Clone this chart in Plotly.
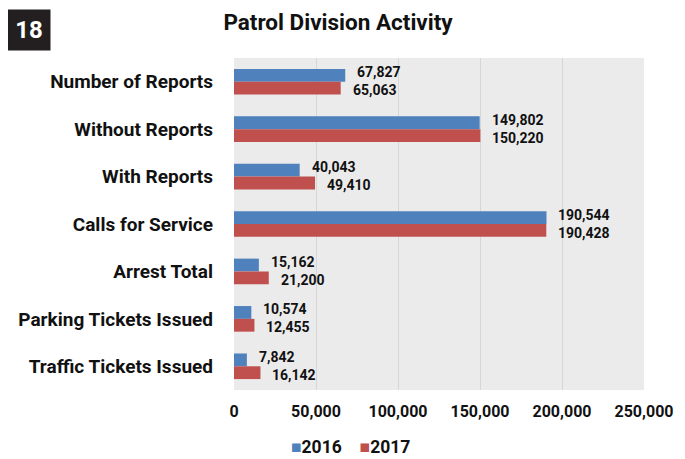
import plotly.graph_objects as go

categories = ["Number of Reports", "Without Reports", "With Reports", "Calls for Service",
              "Arrest Total", "Parking Tickets Issued", "Traffic Tickets Issued"]
values_2016 = [67827, 149802, 40043, 190544, 15162, 10574, 7842]
values_2017 = [65063, 150220, 49410, 190428, 21200, 12455, 16142]
series_names = ["2016", "2017"]
series_colors = ["#4F81BD", "#C0504D"]
x_ticks = [0, 50000, 100000, 150000, 200000, 250000]
x_tick_labels = ["0", "50,000", "100,000", "150,000", "200,000", "250,000"]

FONT = "Roboto, Arial, sans-serif"
INK = "#111111"

fig = go.Figure()
for name, vals, col in zip(series_names, [values_2016, values_2017], series_colors):
    fig.add_trace(go.Bar(
        y=categories, x=vals, orientation="h", name=name,
        marker=dict(color=col, line=dict(width=0)), showlegend=False,
    ))

# data labels, placed at the bar ends through the axes' scales
for vals, yshift in [(values_2016, 9.5), (values_2017, -8.5)]:
    for cat, v in zip(categories, vals):
        fig.add_annotation(
            x=v, y=cat, xref="x", yref="y", text=f"{v:,}", showarrow=False,
            xanchor="left", yanchor="middle", xshift=10, yshift=yshift,
            font=dict(family=FONT, size=14, color=INK, weight="bold"),
        )

fig.update_layout(
    width=677, height=451,
    margin=dict(l=226, r=41, t=50, b=69, autoexpand=False),
    paper_bgcolor="white", plot_bgcolor="#EBEBEB",
    barmode="group", bargap=0.46, bargroupgap=0,
    font=dict(family=FONT, color=INK),
    title=dict(text="Patrol Division Activity", x=0.4875, xanchor="center",
               y=0.969, yanchor="middle",
               font=dict(family=FONT, size=22.5, color=INK, weight="bold")),
    xaxis=dict(range=[0, 250000], tickvals=x_ticks, ticktext=x_tick_labels,
               showgrid=True, gridcolor="#D6D6D6", gridwidth=1, zeroline=False,
               showline=False, automargin=False,
               tickfont=dict(family=FONT, size=16, color=INK, weight="bold"),
               ticks="", ticklabelstandoff=10),
    yaxis=dict(autorange="reversed", showgrid=False, showline=False, ticks="",
               automargin=False,
               tickfont=dict(family=FONT, size=19, color=INK, weight="bold"),
               ticklabelstandoff=20),
)

# legend row (small square swatches directly before each label)
legend_text = "\u2003".join(
    f'<span style="color:{c}">\u25A0</span>{n}' for n, c in zip(series_names, series_colors)
)
fig.add_annotation(
    text=legend_text, xref="paper", yref="paper", x=0.283, y=-0.172,
    xanchor="center", yanchor="middle", showarrow=False,
    font=dict(family=FONT, size=17.5, color=INK, weight="bold"),
)

fig.add_annotation(
    text="18", xref="paper", yref="paper", x=-0.5, y=1.084,
    xanchor="center", yanchor="middle", showarrow=False,
    font=dict(family=FONT, size=24, color="white", weight="bold"),
    bgcolor="#231F20", width=42, height=40, borderpad=0,
)

fig.write_html("out.html")
